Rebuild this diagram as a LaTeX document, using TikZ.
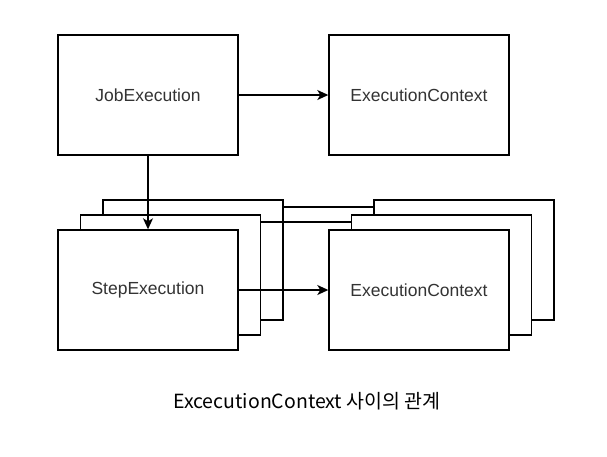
\documentclass[tikz,border=0pt]{standalone}
\usepackage{fontspec}
\setmainfont{Liberation Sans}
\newfontfamily\krfont{Noto Sans CJK KR}
\usetikzlibrary{arrows.meta}

\begin{document}
\begin{tikzpicture}[x=1pt,y=-1pt,
    box/.style={draw, line width=1.4pt, fill=white, minimum width=180pt,
        minimum height=120pt, inner sep=0pt,
        font=\fontsize{17.5}{20}\selectfont, text=black!80},
    link/.style={line width=1.4pt},
    arr/.style={link, -{Stealth[length=11pt,width=10pt,inset=3pt]}}]

\useasboundingbox (0,0) rectangle (607,456);

% stacked copies, back to front
\foreach \i/\d in {3/45,2/22.5} {
    \node [box] (step\i) at (148+\d, 290-\d*2/3) {};
    \node [box] (ctx\i) at (419+\d, 290-\d*2/3) {};
    \draw [link] ([yshift=-7.5pt]step\i.north east) -- ([yshift=-7.5pt]ctx\i.north west);
}

\node [box] (step1) at (148,290) {StepExecution};
\node [box] (ctx1) at (419,290) {ExecutionContext};

\node [box] (job) at (148,95) {JobExecution};
\node [box] (jobctx) at (419,95) {ExecutionContext};

\draw [arr] (job) -- (jobctx);
\draw [arr] (job) -- (step1);
\draw [arr] (step1) -- (ctx1);

\node (caption) at (307,401) {\krfont\fontsize{19.5}{22}\selectfont ExcecutionContext 사이의 관계};

\end{tikzpicture}
\end{document}
